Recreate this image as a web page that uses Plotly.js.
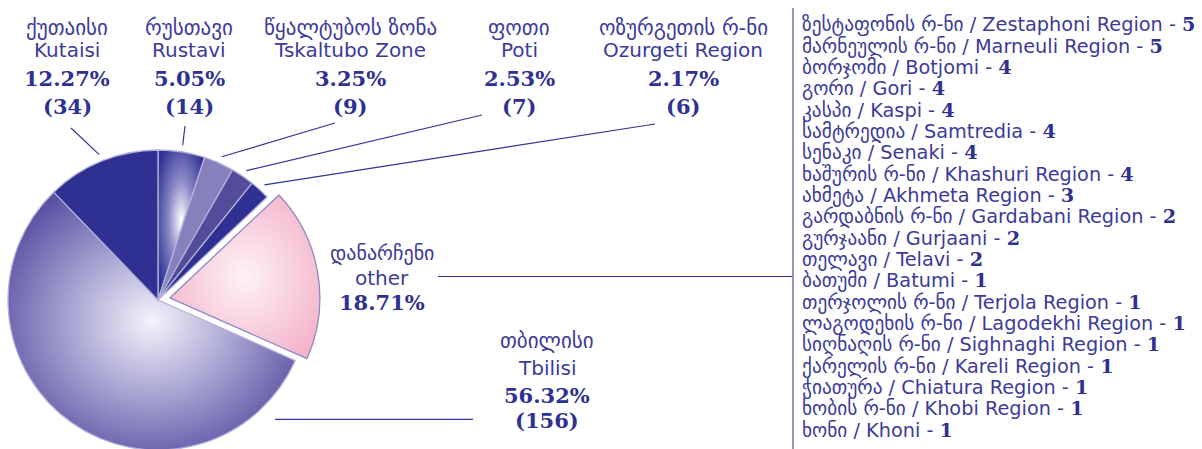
<!DOCTYPE html>
<html><head><meta charset="utf-8">
<script src="https://cdn.plot.ly/plotly-3.0.1.min.js"></script>
<style>
html,body{margin:0;padding:0;overflow:hidden;background:#fff;width:1202px;height:449px}
#chart{position:absolute;left:-20px;top:0;width:1222px;height:520px}
</style>
</head><body><div id="chart"></div>
<script>
// ---- data ----
const sliceGeo = ['რუსთავი','წყალტუბოს ზონა','ფოთი','ოზურგეთის რ-ნი','დანარჩენი','თბილისი','ქუთაისი'];
const sliceEng = ['Rustavi','Tskaltubo Zone','Poti','Ozurgeti Region','other','Tbilisi','Kutaisi'];
const slicePct = [5.05, 3.25, 2.53, 2.17, 18.71, 56.32, 12.27];
const sliceCount = [14, 9, 7, 6, null, 156, 34];

const otherGeo = ['ზესტაფონის რ-ნი','მარნეულის რ-ნი','ბორჯომი','გორი','კასპი','სამტრედია','სენაკი','ხაშურის რ-ნი','ახმეტა','გარდაბნის რ-ნი','გურჯაანი','თელავი','ბათუმი','თერჯოლის რ-ნი','ლაგოდეხის რ-ნი','სიღნაღის რ-ნი','ქარელის რ-ნი','ჭიათურა','ხობის რ-ნი','ხონი'];
const otherEng = ['Zestaphoni Region','Marneuli Region','Botjomi','Gori','Kaspi','Samtredia','Senaki','Khashuri Region','Akhmeta Region','Gardabani Region','Gurjaani','Telavi','Batumi','Terjola Region','Lagodekhi Region','Sighnaghi Region','Kareli Region','Chiatura Region','Khobi Region','Khoni'];
const otherCount = [5,5,4,4,4,4,4,4,3,2,2,2,1,1,1,1,1,1,1,1];

// ---- styles / layout ----
const sliceColors = ['#3a3c98','#8681bc','#524c9b','#2e3192','#f6bfd5','#8f8ac4','#2e3192'];
const W = 1222, H = 520, OX = 20;
const px = x => (x + OX) / W, py = y => 1 - y / H;
const CX = 158, CY = 300, R = 150, PULL = 0.08;
const TXT = '#3c3b99', BOLD = '#2e3192', LINE = '#34339a';
const SANS = 'DejaVu Sans', SERIF = 'DejaVu Serif';

// label placement (screen px): x center, baselines of lines, font sizes, leader end near label
const TOP = {base:[35,57,86,114], size:[21,20,21,21]};
const labelLayout = [
  {x:189, base:TOP.base, size:TOP.size, end:[185,126]},
  {x:350, base:TOP.base, size:TOP.size, end:[335,123]},
  {x:519, base:TOP.base, size:TOP.size, end:[482,115]},
  {x:683, base:TOP.base, size:TOP.size, end:[655,124]},
  {x:382, base:[260,285,310], size:[20,20,21], hline:[438,793,276.5]},
  {x:547, base:[348,375,403,428], size:[21,20,21,21], hline:[275,473,419.3]},
  {x:67,  base:TOP.base, size:TOP.size, end:[71,128]}
];

const total = slicePct.reduce((a,b)=>a+b,0);
const annotations = [], shapes = [];
function addText(x, base, txt, size, fam, color, anchor){
  annotations.push({xref:'paper', yref:'paper', x:px(x), y:py(base - 0.35*size),
    xanchor:anchor||'center', yanchor:'middle', showarrow:false, text:txt,
    font:{family:fam, size:size, color:color}});
}
let cum = 0;
slicePct.forEach((v,i)=>{
  const mid = (cum + v/2) / total * 2 * Math.PI;
  cum += v;
  const L = labelLayout[i];
  const lines = [[sliceGeo[i], SANS, TXT],[sliceEng[i], SANS, TXT],[v.toFixed(2)+'%', SERIF, BOLD]];
  if (sliceCount[i] !== null) lines.push(['('+sliceCount[i]+')', SERIF, BOLD]);
  lines.forEach((ln,k)=>{
    const t = ln[1]===SERIF ? '<b>'+ln[0]+'</b>' : ln[0];
    addText(L.x, L.base[k], t, L.size[k], ln[1], ln[2]);
  });
  if (L.end){
    const r = R*1.045;
    const sx = CX + r*Math.sin(mid), sy = CY - r*Math.cos(mid);
    shapes.push({type:'line', xref:'paper', yref:'paper', x0:px(sx), y0:py(sy), x1:px(L.end[0]), y1:py(L.end[1]), line:{color:LINE, width:1.2}});
  } else if (L.hline){
    shapes.push({type:'line', xref:'paper', yref:'paper', x0:px(L.hline[0]), y0:py(L.hline[2]), x1:px(L.hline[1]), y1:py(L.hline[2]), line:{color:LINE, width:1.2}});
  }
});

// list of the "other" group
const LIST_X = 800, LIST_B0 = 31.7, LIST_STEP = 21.32, LIST_SIZE = 19.3;
otherGeo.forEach((g,i)=>{
  const txt = g + ' / ' + otherEng[i] + ' - <span style="font-family:\'DejaVu Serif\';font-weight:bold;fill:#2e3192">' + otherCount[i] + '</span>';
  addText(LIST_X, LIST_B0 + i*LIST_STEP, txt, LIST_SIZE, SANS, TXT, 'left');
});
shapes.push({type:'line', xref:'paper', yref:'paper', x0:px(793), x1:px(793), y0:py(8), y1:py(470), line:{color:'#7c79bf', width:1.6}});

const trace = {
  type:'pie', values:slicePct, labels:sliceEng, sort:false, direction:'clockwise', rotation:0,
  pull: sliceEng.map(l => l==='other' ? PULL : 0),
  marker:{colors:sliceColors, line:{color:sliceEng.map(l => l==='other' ? '#8d89c3' : '#b3b0d9'), width:1.3}},
  textinfo:'none', hoverinfo:'skip', showlegend:false,
  domain:{x:[px(CX-R*(1+PULL)), px(CX+R*(1+PULL))], y:[py(CY+R*(1+PULL)), py(CY-R*(1+PULL))]}
};

const layout = {width:W, height:H, margin:{l:0,r:0,t:0,b:0}, paper_bgcolor:'#fff', plot_bgcolor:'#fff',
  showlegend:false, annotations:annotations, shapes:shapes};

Plotly.newPlot('chart', [trace], layout, {staticPlot:true, displayModeBar:false}).then(gd=>{
  const NS = 'http://www.w3.org/2000/svg';
  const svg = gd.querySelector('svg.main-svg');
  let defs = svg.querySelector('defs');
  function grad(id, cx, cy, r, stops){
    const g = document.createElementNS(NS,'radialGradient');
    g.setAttribute('id', id); g.setAttribute('cx', cx); g.setAttribute('cy', cy); g.setAttribute('r', r);
    stops.forEach(s=>{ const st=document.createElementNS(NS,'stop'); st.setAttribute('offset', s[0]); st.setAttribute('stop-color', s[1]); g.appendChild(st); });
    defs.appendChild(g);
  }
  grad('gRus', 0.5, 0.47, 0.6, [[0,'#ffffff'],[0.45,'#8c89c6'],[1,'#2e3192']]);
  grad('gOth', 0.5, 0.5, 0.65, [[0,'#fdf2f7'],[1,'#f3aec8']]);
  grad('gTbi', 0.5, 0.5, 0.62, [[0,'#f4f3fb'],[0.45,'#aaa6d3'],[1,'#4f479d']]);
  const paths = gd.querySelectorAll('.pielayer .slice path.surface');
  if (paths.length === 7){
    paths[0].style.fill = 'url(#gRus)';
    paths[4].style.fill = 'url(#gOth)';
    paths[5].style.fill = 'url(#gTbi)';
  }
});
</script>
</body></html>
